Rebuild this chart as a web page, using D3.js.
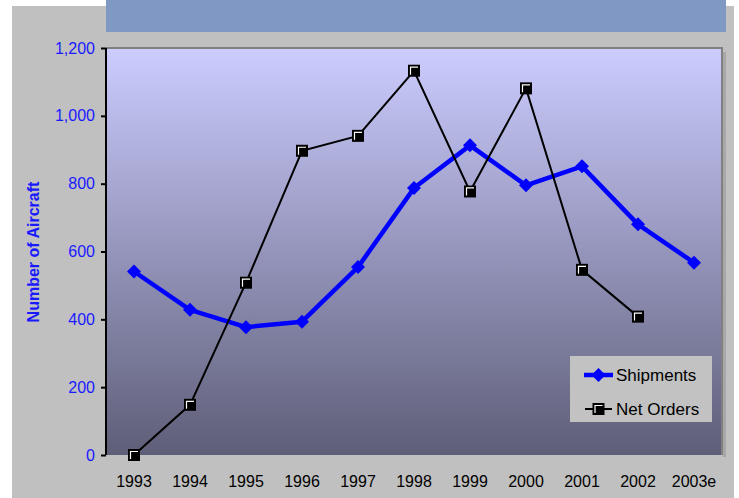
<!DOCTYPE html>
<html>
<head>
<meta charset="utf-8">
<script src="https://cdn.jsdelivr.net/npm/d3@7"></script>
<style>
  html, body { margin: 0; padding: 0; background: #ffffff; }
  svg { display: block; font-family: "Liberation Sans", Arial, sans-serif; }
</style>
</head>
<body>
<svg id="chart" width="739" height="498"></svg>
<script>
const categories = ["1993","1994","1995","1996","1997","1998","1999","2000","2001","2002","2003e"];
const shipments  = [541, 428, 377, 393, 554, 787, 913, 795, 851, 680, 567];
const netOrders  = [0, 148, 508, 897, 941, 1133, 777, 1081, 546, 408];
const yTicks     = [0, 200, 400, 600, 800, 1000, 1200];
const seriesNames = ["Shipments", "Net Orders"];
const yTitle = "Number of Aircraft";

const svg = d3.select("#chart");
const W = 739, H = 498;
const plot = { left: 106, right: 722, top: 48, bottom: 455 };

// page background
svg.append("rect").attr("x", 12).attr("y", 6).attr("width", 722).attr("height", H - 6).attr("fill", "#c0c0c0");
// title bar (text cut off above the view)
svg.append("rect").attr("x", 106).attr("y", 0).attr("width", 620).attr("height", 32).attr("fill", "#8098c4");

const defs = svg.append("defs");
const grad = defs.append("linearGradient").attr("id", "bg").attr("x1", 0).attr("y1", 0).attr("x2", 0).attr("y2", 1);
grad.append("stop").attr("offset", "0%").attr("stop-color", "#ccccff");
grad.append("stop").attr("offset", "100%").attr("stop-color", "#5e5e78");

const x = d3.scaleBand().domain(categories).range([plot.left, plot.right]);
const y = d3.scaleLinear().domain([0, 1200]).range([plot.bottom, plot.top]);
const cx = d => x(d) + x.bandwidth() / 2;

// plot area
svg.append("rect").attr("x", plot.left).attr("y", plot.top)
  .attr("width", plot.right - plot.left).attr("height", plot.bottom - plot.top)
  .attr("fill", "url(#bg)");
// top and right border
svg.append("path")
  .attr("d", `M${plot.left},${plot.top}H${plot.right}V${plot.bottom}`)
  .attr("fill", "none").attr("stroke", "#808080").attr("stroke-width", 2);
// right shadow
svg.append("rect").attr("x", plot.right + 1).attr("y", plot.top + 4).attr("width", 3).attr("height", plot.bottom - plot.top - 2).attr("fill", "#a8a8a8");

// y axis
const yAxis = d3.axisLeft(y).tickValues(yTicks).tickSize(5).tickPadding(6).tickFormat(d3.format(","));
const ya = svg.append("g").attr("transform", `translate(${plot.left},0)`).call(yAxis);
ya.select(".domain").attr("stroke", "#000").attr("stroke-width", 2).attr("d", `M0,${plot.top}V${plot.bottom}`);
ya.selectAll(".tick line").attr("stroke", "#000").attr("stroke-width", 2);
ya.selectAll(".tick text").attr("fill", "#1a1aff").attr("font-size", 16)
  .attr("font-family", "Liberation Sans, Arial, sans-serif");

// x axis labels
const xAxis = d3.axisBottom(x).tickSize(0).tickPadding(21);
const xa = svg.append("g").attr("transform", `translate(0,${plot.bottom})`).call(xAxis);
xa.select(".domain").remove();
xa.selectAll(".tick text").attr("fill", "#000").attr("font-size", 16)
  .attr("font-family", "Liberation Sans, Arial, sans-serif");

// y title
svg.append("text")
  .attr("transform", `translate(39,252) rotate(-90)`)
  .attr("text-anchor", "middle")
  .attr("font-size", 16).attr("font-weight", "bold").attr("fill", "#1a1aff")
  .text(yTitle);

// lines
const shipData = categories.map((c, i) => ({ c, v: shipments[i] }));
const orderData = netOrders.map((v, i) => ({ c: categories[i], v }));
const line = d3.line().x(d => cx(d.c)).y(d => y(d.v));

svg.append("path").datum(shipData).attr("d", line)
  .attr("fill", "none").attr("stroke", "#0000ff").attr("stroke-width", 4.5).attr("stroke-linejoin", "round");

const diamond = "M0,-7L7,0L0,7L-7,0Z";
svg.append("g").selectAll("path").data(shipData).join("path")
  .attr("transform", d => `translate(${cx(d.c)},${y(d.v)})`)
  .attr("d", diamond).attr("fill", "#0000ff");

svg.append("path").datum(orderData).attr("d", line)
  .attr("fill", "none").attr("stroke", "#000").attr("stroke-width", 2);

function squareMarker(g) {
  g.append("rect").attr("x", -6).attr("y", -6).attr("width", 12).attr("height", 12).attr("fill", "#000");
  g.append("path").attr("d", "M-3.5,4V-3.5H4").attr("fill", "none").attr("stroke", "#fff").attr("stroke-width", 1.2);
}
svg.append("g").selectAll("g").data(orderData).join("g")
  .attr("transform", d => `translate(${cx(d.c)},${y(d.v)})`)
  .each(function () { squareMarker(d3.select(this)); });

// legend
const lg = svg.append("g");
lg.append("rect").attr("x", 570).attr("y", 356).attr("width", 142).attr("height", 66).attr("fill", "#c2c2c2");
const ly = [375, 409];
lg.append("line").attr("x1", 584).attr("x2", 613).attr("y1", ly[0]).attr("y2", ly[0]).attr("stroke", "#0000ff").attr("stroke-width", 4.5);
lg.append("path").attr("transform", `translate(598.5,${ly[0]})`).attr("d", diamond).attr("fill", "#0000ff");
lg.append("line").attr("x1", 585).attr("x2", 612).attr("y1", ly[1]).attr("y2", ly[1]).attr("stroke", "#000").attr("stroke-width", 2);
squareMarker(lg.append("g").attr("transform", `translate(598.5,${ly[1]})`));
lg.selectAll("text.lbl").data(seriesNames).join("text").attr("class", "lbl")
  .attr("x", 616).attr("y", (d, i) => ly[i]).attr("dy", "0.36em")
  .attr("font-size", 17).attr("fill", "#000").text(d => d);
</script>
</body>
</html>
